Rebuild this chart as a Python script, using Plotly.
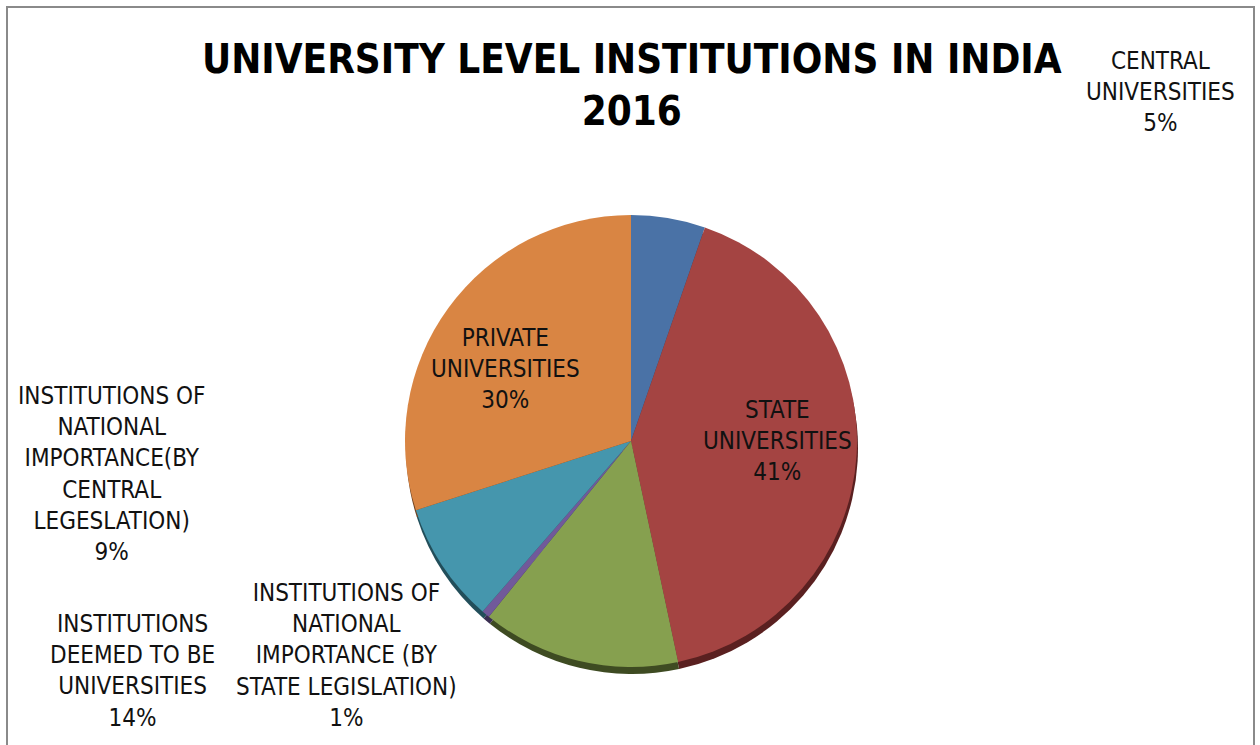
import plotly.graph_objects as go

W, H = 1260, 745

categories = [
    "CENTRAL UNIVERSITIES",
    "STATE UNIVERSITIES",
    "INSTITUTIONS DEEMED TO BE UNIVERSITIES",
    "INSTITUTIONS OF NATIONAL IMPORTANCE (BY STATE LEGISLATION)",
    "INSTITUTIONS OF NATIONAL IMPORTANCE(BY CENTRAL LEGESLATION)",
    "PRIVATE UNIVERSITIES",
]
values = [46, 359, 123, 5, 75, 260]
colors = ["#4A72A6", "#A44442", "#86A04F", "#71599A", "#4596AD", "#D98543"]
rim_colors = ["#2A4260", "#5A2020", "#3E4B22", "#3A2E52", "#224E5A", "#6E4220"]

# label line breaks as laid out beside each slice
label_lines = [
    ["CENTRAL", "UNIVERSITIES"],
    ["STATE", "UNIVERSITIES"],
    ["INSTITUTIONS", "DEEMED TO BE", "UNIVERSITIES"],
    ["INSTITUTIONS OF", "NATIONAL", "IMPORTANCE (BY", "STATE LEGISLATION)"],
    ["INSTITUTIONS OF", "NATIONAL", "IMPORTANCE(BY", "CENTRAL", "LEGESLATION)"],
    ["PRIVATE", "UNIVERSITIES"],
]
# label centres in pixels
label_pos = [(1160, 92), (777, 441), (132, 671), (346, 655), (111, 474), (505, 369)]

FONT = "Liberation Sans Narrow, Arial Narrow, DejaVu Sans Condensed, sans-serif"

cx, cy, r = 631, 441, 226

def dom(x0, x1, y0, y1):
    return dict(x=[x0 / W, x1 / W], y=[1 - y1 / H, 1 - y0 / H])

fig = go.Figure()

# darker rim under the pie, same slices shifted down
fig.add_trace(go.Pie(
    values=values, sort=False, direction="clockwise", rotation=0,
    marker=dict(colors=rim_colors, line=dict(width=0)),
    textinfo="none", hoverinfo="skip", showlegend=False,
    domain=dom(cx - r + 1, cx + r + 1, cy - r + 7, cy + r + 7),
))

fig.add_trace(go.Pie(
    labels=categories, values=values, sort=False, direction="clockwise", rotation=0,
    marker=dict(colors=colors, line=dict(width=0)),
    textinfo="none", showlegend=False,
    domain=dom(cx - r, cx + r, cy - r, cy + r),
))

total = sum(values)
for lines, v, (px, py) in zip(label_lines, values, label_pos):
    pct = round(100 * v / total)
    text = "<br>".join(lines + [f"{pct}%"])
    fig.add_annotation(
        x=px / W, y=1 - py / H, xref="paper", yref="paper",
        text=text, showarrow=False, xanchor="center", yanchor="middle",
        font=dict(family=FONT, size=24, color="#111111"), align="center",
    )

fig.add_annotation(
    x=632 / W, y=1 - 85 / H, xref="paper", yref="paper",
    text="<b>UNIVERSITY LEVEL INSTITUTIONS IN INDIA<br>2016</b>",
    showarrow=False, xanchor="center", yanchor="middle", align="center",
    font=dict(family=FONT, size=40, color="#000000"),
)

fig.add_shape(
    type="rect", xref="paper", yref="paper",
    x0=7 / W, x1=1254 / W, y0=-0.05, y1=1 - 7 / H,
    line=dict(color="#8A8A8A", width=2), fillcolor="rgba(0,0,0,0)",
)

fig.update_layout(
    width=W, height=H, margin=dict(l=0, r=0, t=0, b=0),
    paper_bgcolor="white", plot_bgcolor="white",
)

fig.write_html("out.html")
